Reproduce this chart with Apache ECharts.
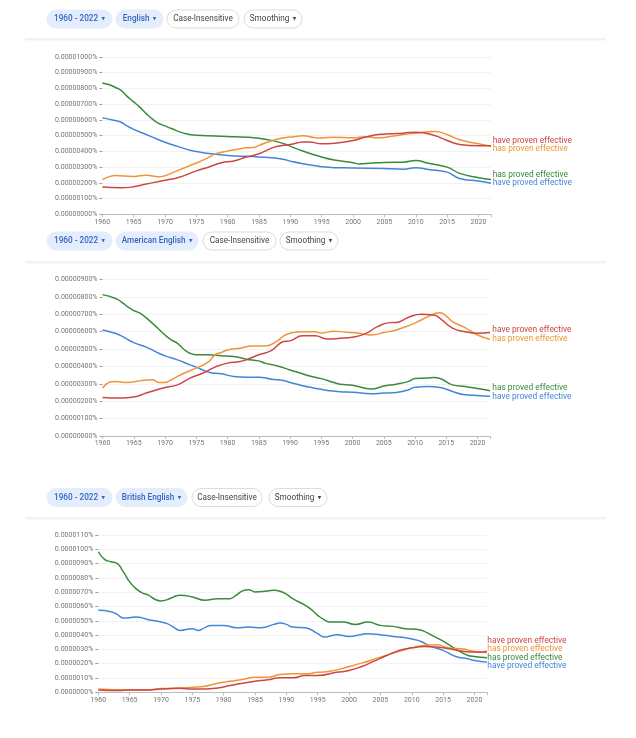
<!DOCTYPE html>
<html>
<head>
<meta charset="utf-8">
<script src="https://cdn.jsdelivr.net/npm/echarts@6/dist/echarts.min.js"></script>
<style>
html,body{margin:0;padding:0;background:#fff;}
#c{width:636px;height:738px;}
</style>
</head>
<body>
<div id="c"></div>
<script>
// Values are in units of 1e-8 percent (e.g. 500 -> 0.00000500%)
const seriesNames = ['have proven effective', 'has proven effective', 'has proved effective', 'have proved effective'];
const panelCorpora = ['English', 'American English', 'British English'];
const rangeLabel = '1960 - 2022';
const yearTicks = [1960, 1965, 1970, 1975, 1980, 1985, 1990, 1995, 2000, 2005, 2010, 2015, 2020];

// ---- Panel 1: English ----
const enHaveProven = [[1960,173],[1963,168],[1965,175],[1967,192],[1970,217],[1972,232],[1975,276],[1977,301],[1979,328],[1981,339],[1983,364],[1985,385],[1987,421],[1988,432],[1990,444],[1992,459],[1993,460],[1995,448],[1997,452],[2000,469],[2002,491],[2004,507],[2006,512],[2008,516],[2010,522],[2013,501],[2015,469],[2017,444],[2020,436],[2022,436]];
const enHasProven = [[1960,221],[1961,238],[1962,246],[1965,241],[1967,248],[1969,238],[1970,245],[1972,278],[1975,326],[1977,362],[1978,384],[1980,402],[1982,416],[1983,423],[1984,424],[1985,438],[1987,468],[1989,486],[1990,491],[1992,499],[1994,487],[1995,485],[1997,490],[2000,486],[2002,493],[2004,486],[2006,495],[2008,507],[2010,516],[2013,526],[2015,507],[2017,474],[2020,448],[2022,433]];
const enHasProved = [[1960,835],[1961,825],[1962,808],[1963,788],[1964,748],[1965,715],[1966,680],[1967,640],[1968,605],[1969,578],[1970,562],[1971,545],[1973,516],[1975,502],[1978,498],[1980,495],[1983,490],[1985,483],[1987,470],[1989,448],[1990,432],[1992,402],[1995,364],[1997,345],[2000,328],[2001,320],[2003,326],[2005,330],[2008,331],[2010,342],[2012,324],[2015,300],[2017,260],[2020,233],[2022,221]];
const enHaveProved = [[1960,613],[1961,605],[1962,596],[1963,585],[1964,560],[1965,540],[1967,507],[1969,474],[1970,458],[1972,432],[1974,407],[1975,399],[1977,386],[1980,374],[1982,369],[1984,368],[1985,364],[1987,360],[1989,348],[1990,338],[1992,322],[1995,302],[1997,296],[2000,295],[2005,291],[2008,287],[2010,296],[2012,285],[2015,268],[2017,228],[2020,211],[2022,197]];

// ---- Panel 2: American English ----
const usHaveProven = [[1960,222],[1963,218],[1965,224],[1967,247],[1970,279],[1972,294],[1974,333],[1976,361],[1978,396],[1980,419],[1982,428],[1983,438],[1985,467],[1987,491],[1989,543],[1990,547],[1992,576],[1994,576],[1996,558],[1998,562],[2000,568],[2002,587],[2004,629],[2006,652],[2007,653],[2009,683],[2011,700],[2013,696],[2014,677],[2016,620],[2018,600],[2020,591],[2022,595]];
const usHasProven = [[1960,275],[1961,308],[1962,314],[1964,308],[1966,317],[1968,323],[1969,308],[1970,308],[1971,323],[1973,361],[1975,390],[1977,428],[1978,467],[1979,480],[1980,495],[1982,505],[1984,518],[1986,518],[1988,547],[1989,576],[1990,591],[1992,600],[1994,600],[1995,592],[1997,603],[1999,597],[2001,591],[2003,581],[2005,595],[2007,610],[2009,635],[2011,667],[2013,702],[2014,709],[2015,690],[2016,658],[2018,623],[2020,581],[2022,556]];
const usHasProved = [[1960,813],[1962,792],[1963,772],[1964,744],[1965,721],[1966,706],[1968,648],[1970,581],[1971,553],[1972,533],[1973,499],[1974,476],[1975,467],[1977,467],[1979,461],[1981,457],[1983,442],[1985,432],[1986,419],[1988,403],[1990,380],[1992,358],[1993,346],[1995,330],[1997,308],[1998,298],[2000,292],[2002,275],[2003,270],[2005,287],[2007,298],[2009,314],[2010,330],[2012,333],[2013,336],[2014,331],[2016,294],[2018,285],[2020,273],[2022,260]];
const usHaveProved = [[1960,610],[1962,591],[1963,576],[1965,537],[1967,511],[1969,476],[1970,461],[1972,438],[1974,409],[1975,396],[1977,367],[1979,358],[1981,342],[1983,338],[1985,338],[1987,327],[1989,319],[1990,308],[1992,289],[1994,275],[1996,262],[1998,254],[2000,252],[2003,243],[2005,247],[2007,250],[2009,266],[2010,281],[2012,285],[2014,279],[2016,256],[2018,237],[2020,233],[2022,228]];

// ---- Panel 3: British English ----
const gbHaveProven = [[1960,16],[1963,12],[1965,16],[1968,16],[1970,23],[1973,28],[1975,23],[1977,23],[1979,30],[1981,47],[1983,63],[1985,77],[1987,87],[1989,101],[1991,101],[1993,117],[1995,117],[1998,140],[2000,152],[2002,180],[2004,218],[2006,257],[2008,293],[2010,311],[2012,321],[2014,316],[2016,304],[2018,288],[2020,281],[2022,286]];
const gbHasProven = [[1960,23],[1965,16],[1968,16],[1970,26],[1972,28],[1975,35],[1977,42],[1979,63],[1981,77],[1983,89],[1985,105],[1987,105],[1989,124],[1991,129],[1993,129],[1995,140],[1997,147],[2000,180],[2002,204],[2005,246],[2008,286],[2010,311],[2012,328],[2014,332],[2016,309],[2018,304],[2020,286],[2022,278]];
const gbHasProved = [[1960,983],[1961,929],[1962,913],[1963,901],[1964,842],[1965,772],[1966,725],[1967,695],[1968,679],[1969,651],[1970,639],[1971,648],[1972,667],[1973,679],[1975,667],[1977,644],[1979,655],[1981,655],[1982,679],[1983,709],[1984,718],[1985,702],[1987,709],[1988,714],[1989,707],[1990,686],[1991,655],[1993,608],[1994,578],[1995,538],[1996,508],[1997,491],[1999,491],[2001,475],[2003,491],[2005,468],[2007,461],[2009,445],[2011,440],[2012,426],[2013,403],[2015,358],[2017,304],[2019,257],[2020,250],[2022,241]];
const gbHaveProved = [[1960,573],[1962,564],[1963,545],[1964,520],[1965,522],[1966,527],[1968,508],[1970,491],[1971,480],[1972,456],[1973,433],[1975,445],[1976,433],[1977,452],[1978,468],[1980,468],[1982,452],[1984,456],[1986,452],[1988,475],[1989,484],[1990,475],[1991,456],[1993,452],[1995,410],[1996,386],[1997,393],[1998,403],[2000,391],[2002,405],[2003,410],[2005,403],[2007,391],[2009,381],[2011,363],[2012,344],[2013,321],[2015,293],[2017,250],[2019,234],[2020,222],[2022,211]];

const yMax = [1000, 900, 1100];
const yDecimals = [8, 8, 7];

const panelData = [
  [enHaveProven, enHasProven, enHasProved, enHaveProved],
  [usHaveProven, usHasProven, usHasProved, usHaveProved],
  [gbHaveProven, gbHasProven, gbHasProved, gbHaveProved]
];

// ---- styles / layout ----
const colors = ['#cc4740', '#ee9538', '#3b8a3c', '#4486d6'];
const FONT = 'Roboto, "DejaVu Sans", sans-serif';
const grids = [
  {left: 102.3, top: 57, width: 388.7, height: 157.3},
  {left: 102.5, top: 279.5, width: 387.5, height: 156.5},
  {left: 98.3, top: 535, width: 388.7, height: 157.3}
];
const sepY = [39, 262, 518];
const pillRows = [
  {cy: 19, pills: [[47, 65, true], [116, 47, true], [167, 72, false], [244, 58, false]]},
  {cy: 241, pills: [[47, 65, true], [116, 82, true], [203, 73, false], [280, 58, false]]},
  {cy: 497.5, pills: [[47, 65, true], [116, 71, true], [192, 70, false], [269, 58, false]]}
];
const labelPos = [
  {x: 492.7, ys: [140.7, 149, 175, 183.3]},
  {x: 492.3, ys: [330.3, 339, 388.3, 396.7]},
  {x: 487.3, ys: [640.7, 649.3, 657.7, 666.3]}
];
const labelOrder = [0, 1, 2, 3];

const chart = echarts.init(document.getElementById('c'), null, {renderer: 'canvas'});

const xAxis = [], yAxis = [], series = [], graphic = [];
grids.forEach((g, i) => {
  xAxis.push({
    type: 'value', gridIndex: i, min: 1960, max: 2022, interval: 5,
    axisLine: {show: true, lineStyle: {color: '#bdbdbd', width: 1}},
    axisTick: {show: true, length: 3, lineStyle: {color: '#bdbdbd'}},
    axisLabel: {fontSize: 7, color: '#757575', margin: 4, fontFamily: FONT,
      formatter: v => yearTicks.indexOf(v) >= 0 ? String(v) : ''},
    splitLine: {show: false}
  });
  yAxis.push({
    type: 'value', gridIndex: i, min: 0, max: yMax[i], interval: 100,
    axisLine: {show: false},
    axisTick: {show: true, length: 3, lineStyle: {color: '#9e9e9e'}},
    axisLabel: {fontSize: 7, color: '#757575', margin: 5, fontFamily: FONT,
      formatter: v => (v * 1e-8).toFixed(yDecimals[i]) + '%'},
    splitLine: {show: true, lineStyle: {color: '#f2f2f2', width: 1}}
  });
  panelData[i].forEach((d, k) => {
    series.push({
      type: 'line', name: seriesNames[k] + ' ' + i, xAxisIndex: i, yAxisIndex: i,
      data: d, showSymbol: false, smooth: 0.5,
      lineStyle: {color: colors[k], width: 1.5}, itemStyle: {color: colors[k]},
      z: 10 - k
    });
  });
  graphic.push({type: 'line', shape: {x1: 25, y1: sepY[i], x2: 606, y2: sepY[i]},
    style: {stroke: '#e3e3e3', lineWidth: 1}, silent: true});
  graphic.push({type: 'line', shape: {x1: 25, y1: sepY[i] + 1, x2: 606, y2: sepY[i] + 1},
    style: {stroke: '#f4f4f4', lineWidth: 1}, silent: true});
  const texts = [rangeLabel, panelCorpora[i], 'Case-Insensitive', 'Smoothing'];
  const hasArrow = [true, true, false, true];
  const row = pillRows[i];
  row.pills.forEach((p, j) => {
    const [px, pw, filled] = p;
    const col = filled ? '#3466c2' : '#444444';
    graphic.push({type: 'rect', shape: {x: px, y: row.cy - 9, width: pw, height: 18, r: 9},
      style: filled ? {fill: '#e4edfc', stroke: '#e4edfc', lineWidth: 1}
                    : {fill: '#ffffff', stroke: '#dcdcdc', lineWidth: 1}, silent: true});
    graphic.push({type: 'text', x: px + pw / 2, y: row.cy,
      style: {text: hasArrow[j] ? '{t|' + texts[j] + '} {a|▼}' : '{t|' + texts[j] + '}',
        align: 'center', verticalAlign: 'middle',
        rich: {
          t: {fontSize: 8.2, fontFamily: FONT, fontWeight: filled ? 500 : 400, fill: col, color: col},
          a: {fontSize: 4.5, fontFamily: '"DejaVu Sans", sans-serif', fill: col, color: col}
        }}, silent: true});
  });
  labelOrder.forEach((k, r) => {
    graphic.push({type: 'text', x: labelPos[i].x, y: labelPos[i].ys[r],
      style: {text: seriesNames[k], align: 'left', verticalAlign: 'middle', fontSize: 8.4,
        fontFamily: FONT, fill: colors[k]}, silent: true});
  });
});

chart.setOption({
  animation: false,
  backgroundColor: '#ffffff',
  grid: grids.map(g => Object.assign({containLabel: false}, g)),
  xAxis, yAxis, series, graphic
});
</script>
</body>
</html>
